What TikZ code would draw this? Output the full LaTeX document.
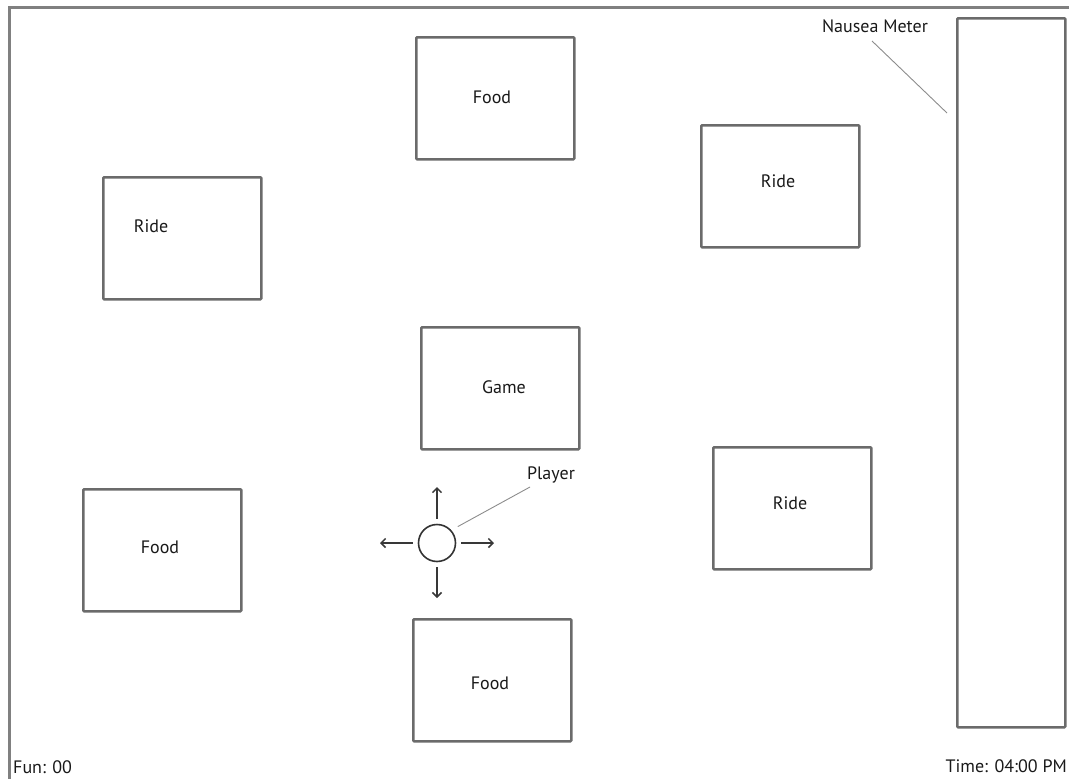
\documentclass[tikz,border=0pt]{standalone}
\usepackage{fontspec}
\setmainfont{PT Sans}
\usetikzlibrary{arrows.meta}
\begin{document}
\begin{tikzpicture}[x=1pt,y=-1pt,
  box/.style={draw=black!58,line width=2.5pt,rounded corners=0.8pt,minimum width=#1,minimum height=122pt,inner sep=0pt,anchor=north west},
  box/.default=158pt,
  lbl/.style={font=\fontsize{18}{21}\selectfont,text=black!90,inner sep=0pt},
  lead/.style={draw=black!45,line width=0.9pt},
  mv/.style={draw=black!78,line width=1.5pt,-{Straight Barb[length=4.5pt,width=9pt]}}]
\useasboundingbox (0,0) rectangle (1069,779);
% frame
\draw[black!50,line width=3pt] (9,779) -- (9,7.5) -- (1069,7.5);
% boxes
\node[box] (foodT) at (415,36) {};
\node[box] (rideTR) at (700,124) {};
\node[box] (rideL) at (102,176) {};
\node[box] (game) at (420,326) {};
\node[box] (rideR) at (712,446) {};
\node[box] (foodL) at (82,488) {};
\node[box] (foodB) at (412,618) {};
\node[box=108pt,minimum height=709pt] (meter) at (956,17) {};
% texts
\node[lbl] (tFoodT) at (492,97) {Food};
\node[lbl] (tRideTR) at (778,181) {Ride};
\node[lbl] (tRideL) at (151,226) {Ride};
\node[lbl] (tGame) at (504,387) {Game};
\node[lbl] (tRideR) at (790,503) {Ride};
\node[lbl] (tFoodL) at (160,547) {Food};
\node[lbl] (tFoodB) at (490,683) {Food};
\node[lbl] (tMeter) at (875,26) {Nausea Meter};
\coordinate (meterPt) at (947,113);
\draw[lead] (872,41) -- (meterPt);
% player
\node[draw=black!80,line width=1.6pt,circle,minimum size=37pt,inner sep=0pt] (player) at (437,543) {};
\node[lbl] (tPlayer) at (551,475) {Player};
\coordinate (pl) at (530,487);
\draw[lead] (player.40) ++(6,-4) coordinate (pp) -- (pl);
\coordinate (aU) at (437,487);
\coordinate (aD) at (437,598);
\coordinate (aL) at (380,543);
\coordinate (aR) at (494,543);
\draw[mv] (player.north) ++(0,-5) -- (aU);
\draw[mv] (player.south) ++(0,5) -- (aD);
\draw[mv] (player.west) ++(-5,0) -- (aL);
\draw[mv] (player.east) ++(5,0) -- (aR);
% status
\node[lbl,anchor=west] (fun) at (13,767) {Fun: 00};
\node[lbl,anchor=east] (time) at (1067,766) {Time: 04:00 PM};
\end{tikzpicture}
\end{document}
